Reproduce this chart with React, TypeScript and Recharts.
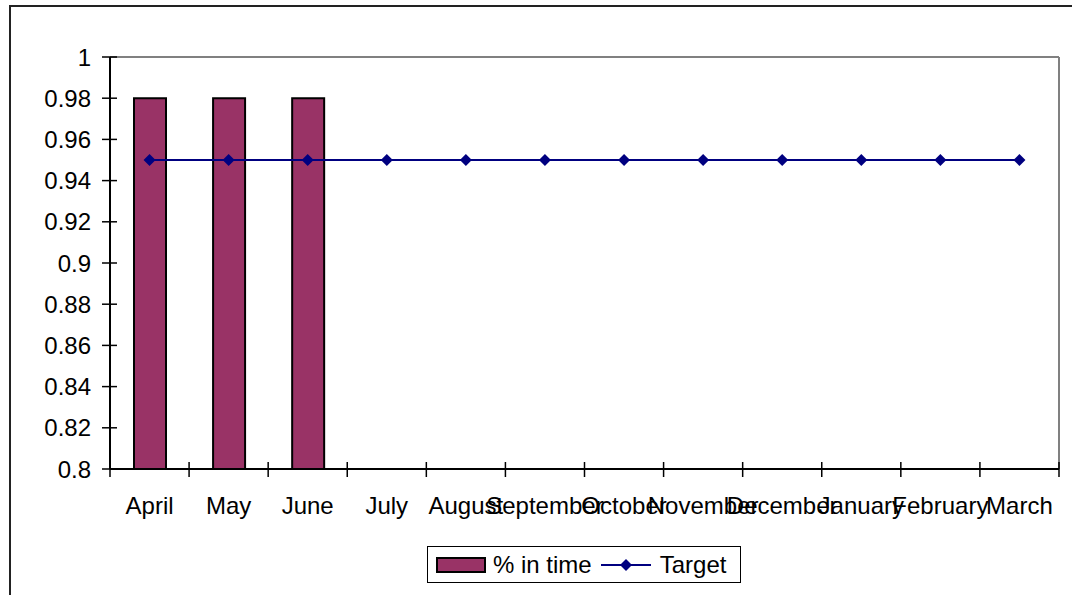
import { ComposedChart, Bar, Line, XAxis, YAxis, Legend } from "recharts";

const months = [
  "April", "May", "June", "July", "August", "September",
  "October", "November", "December", "January", "February", "March",
];
const inTime = [0.98, 0.98, 0.98, null, null, null, null, null, null, null, null, null];
const target = [0.95, 0.95, 0.95, 0.95, 0.95, 0.95, 0.95, 0.95, 0.95, 0.95, 0.95, 0.95];
const yTicks = [0.8, 0.82, 0.84, 0.86, 0.88, 0.9, 0.92, 0.94, 0.96, 0.98, 1];

const rows = months.map((month, i) => ({ month, inTime: inTime[i], target: target[i] }));

const BAR_FILL = "#993366";
const LINE_COLOR = "#000080";
const FONT = "Arial, 'Liberation Sans', sans-serif";
const FONT_SIZE = 24;

const W = 1072;
const H = 595;
// the 1px top/right axes hold the grey frame of the plot area
const MARGIN = { top: 56, right: 12, bottom: 66, left: 10 };
const Y_AXIS_W = 100;
const X_AXIS_H = 60;
const X_TICK_SIZE = 8;
const X_TICK_MARGIN = 20;
const Y_TICK_SIZE = 8;
const Y_TICK_MARGIN = 12;
const PLOT_W = W - MARGIN.left - MARGIN.right - Y_AXIS_W - 1;

// month label centred in its band, tick marks on the band edges crossing the axis
function MonthTick(props: any) {
  const { x, y, payload, index, visibleTicksCount } = props;
  const half = payload.offset || PLOT_W / months.length / 2;
  const axisY = y - X_TICK_SIZE - X_TICK_MARGIN;
  const last = index === visibleTicksCount - 1;
  return (
    <g>
      <line x1={x - half} x2={x - half} y1={axisY - 7} y2={axisY + 8} stroke="#000" strokeWidth={1.5} />
      {last && (
        <line x1={x + half} x2={x + half} y1={axisY - 7} y2={axisY + 8} stroke="#000" strokeWidth={1.5} />
      )}
      <text x={x} y={y} dy="0.71em" textAnchor="middle" fill="#000" fontSize={FONT_SIZE} fontFamily={FONT}>
        {payload.value}
      </text>
    </g>
  );
}

function ValueTick(props: any) {
  const { x, y, payload } = props;
  const axisX = x + Y_TICK_SIZE + Y_TICK_MARGIN;
  return (
    <g>
      <line x1={axisX - 8} x2={axisX + 7} y1={y} y2={y} stroke="#000" strokeWidth={1.5} />
      <text x={x + 1} y={y} dy="0.355em" textAnchor="end" fill="#000" fontSize={FONT_SIZE} fontFamily={FONT}>
        {String(payload.value)}
      </text>
    </g>
  );
}

function Diamond(props: any) {
  const { cx, cy, index } = props;
  if (cx == null || cy == null) return <g key={index} />;
  return (
    <path
      key={index}
      d={`M${cx},${cy - 6} L${cx + 6},${cy} L${cx},${cy + 6} L${cx - 6},${cy} Z`}
      fill={LINE_COLOR}
    />
  );
}

function LegendBox() {
  return (
    <div
      style={{
        boxSizing: "border-box",
        width: 314,
        height: 37,
        border: "1px solid #000",
        background: "#fff",
        display: "flex",
        alignItems: "center",
        fontFamily: FONT,
        fontSize: FONT_SIZE,
        color: "#000",
        paddingLeft: 8,
      }}
    >
      <svg width={50} height={16} style={{ display: "block" }}>
        <rect x={1} y={1} width={48} height={14} fill={BAR_FILL} stroke="#000" strokeWidth={2} />
      </svg>
      <span style={{ marginLeft: 7 }}>% in time</span>
      <svg width={52} height={16} style={{ display: "block", marginLeft: 9 }}>
        <line x1={0} x2={50} y1={8} y2={8} stroke={LINE_COLOR} strokeWidth={2} />
        <path d="M25,2 L31,8 L25,14 L19,8 Z" fill={LINE_COLOR} />
      </svg>
      <span style={{ marginLeft: 7 }}>Target</span>
    </div>
  );
}

export default function App() {
  return (
    <div
      style={{
        position: "absolute",
        left: 0,
        top: 0,
        width: W,
        height: H,
        overflow: "hidden",
        background: "#fff",
      }}
    >
      <div
        style={{
          position: "absolute",
          left: 9,
          top: 5,
          width: W + 40,
          height: H + 40,
          border: "2px solid #222",
        }}
      />
      <div style={{ position: "absolute", left: 0, top: 0 }}>
        <ComposedChart width={W} height={H} data={rows} margin={MARGIN}>
          <XAxis
            xAxisId="top"
            orientation="top"
            dataKey="month"
            height={1}
            tick={false}
            tickLine={false}
            axisLine={{ stroke: "#808080", strokeWidth: 2 }}
          />
          <YAxis
            yAxisId="right"
            orientation="right"
            width={1}
            domain={[0.8, 1]}
            tick={false}
            tickLine={false}
            axisLine={{ stroke: "#808080", strokeWidth: 2 }}
          />
          <XAxis
            dataKey="month"
            height={X_AXIS_H}
            interval={0}
            tickSize={X_TICK_SIZE}
            tickMargin={X_TICK_MARGIN}
            tickLine={false}
            tick={<MonthTick />}
            axisLine={{ stroke: "#000", strokeWidth: 2 }}
          />
          <YAxis
            width={Y_AXIS_W}
            domain={[0.8, 1]}
            ticks={yTicks}
            interval={0}
            tickSize={Y_TICK_SIZE}
            tickMargin={Y_TICK_MARGIN}
            tickLine={false}
            tick={<ValueTick />}
            axisLine={{ stroke: "#000", strokeWidth: 2 }}
          />
          <Bar
            dataKey="inTime"
            name="% in time"
            fill={BAR_FILL}
            stroke="#000"
            strokeWidth={2}
            barSize={32}
            isAnimationActive={false}
          />
          <Line
            dataKey="target"
            name="Target"
            stroke={LINE_COLOR}
            strokeWidth={2}
            dot={(p: any) => <Diamond {...p} />}
            activeDot={false}
            isAnimationActive={false}
          />
          <Legend
            verticalAlign="middle"
            align="center"
            content={() => <LegendBox />}
            wrapperStyle={{ left: 427, top: 546, width: 314, height: 37 }}
          />
        </ComposedChart>
      </div>
    </div>
  );
}
